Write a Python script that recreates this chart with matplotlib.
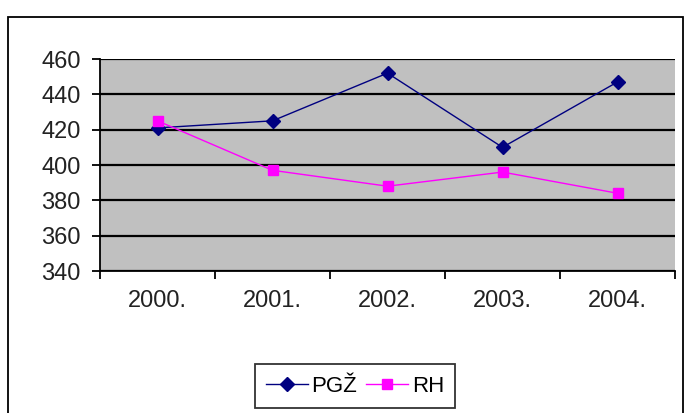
import matplotlib.pyplot as plt
from matplotlib.patches import Rectangle

plt.rcParams['font.family'] = ['Liberation Sans', 'DejaVu Sans']
plt.rcParams['font.size'] = 17

# podaci
godine = ['2000.', '2001.', '2002.', '2003.', '2004.']
pgz = [421, 425, 452, 410, 447]
rh = [425, 397, 388, 396, 384]

fig = plt.figure(figsize=(6.89, 4.13), dpi=100)
fig.patch.set_facecolor('white')

# vanjski okvir
fig.patches.append(Rectangle((8 / 689, -0.05), 675 / 689, 1.05 - 17 / 413,
                             transform=fig.transFigure, fill=False,
                             edgecolor='black', linewidth=1.3))

ax = fig.add_axes([100 / 689, (413 - 271) / 413, 575 / 689, 212 / 413])
ax.set_facecolor('#C0C0C0')

x = list(range(len(godine)))
ax.plot(x, pgz, color='#000080', marker='D', markersize=7, linewidth=1, label='PGŽ')
ax.plot(x, rh, color='#FF00FF', marker='s', markersize=7, linewidth=1, label='RH')

ax.set_xlim(-0.5, len(godine) - 0.5)
ax.set_ylim(340, 460)
ax.set_yticks(range(340, 461, 20))
ax.yaxis.grid(True, color='black', linewidth=1.6)
ax.set_axisbelow(True)

ax.set_xticks(x)
ax.set_xticklabels(godine)
ax.set_xticks([i - 0.5 for i in range(len(godine) + 1)], minor=True)
ax.tick_params(axis='x', which='major', length=0, pad=14, labelcolor='#222222')
ax.tick_params(axis='x', which='minor', length=6, width=1.3, direction='out')
ax.tick_params(axis='y', length=6, width=1.3, direction='out', pad=8, labelcolor='#222222')

for s in ['top', 'right']:
    ax.spines[s].set_visible(False)
ax.spines['left'].set_linewidth(1.3)
ax.spines['bottom'].set_linewidth(1.3)

leg = fig.legend(loc='center', bbox_to_anchor=(355 / 689, 27 / 413), ncol=2,
                 frameon=True, fancybox=False, edgecolor='black',
                 handlelength=1.9, columnspacing=0.4, handletextpad=0.15,
                 borderpad=0.5, borderaxespad=0, fontsize=16)
leg.get_frame().set_linewidth(1.3)

plt.savefig('out.png', dpi=100)
